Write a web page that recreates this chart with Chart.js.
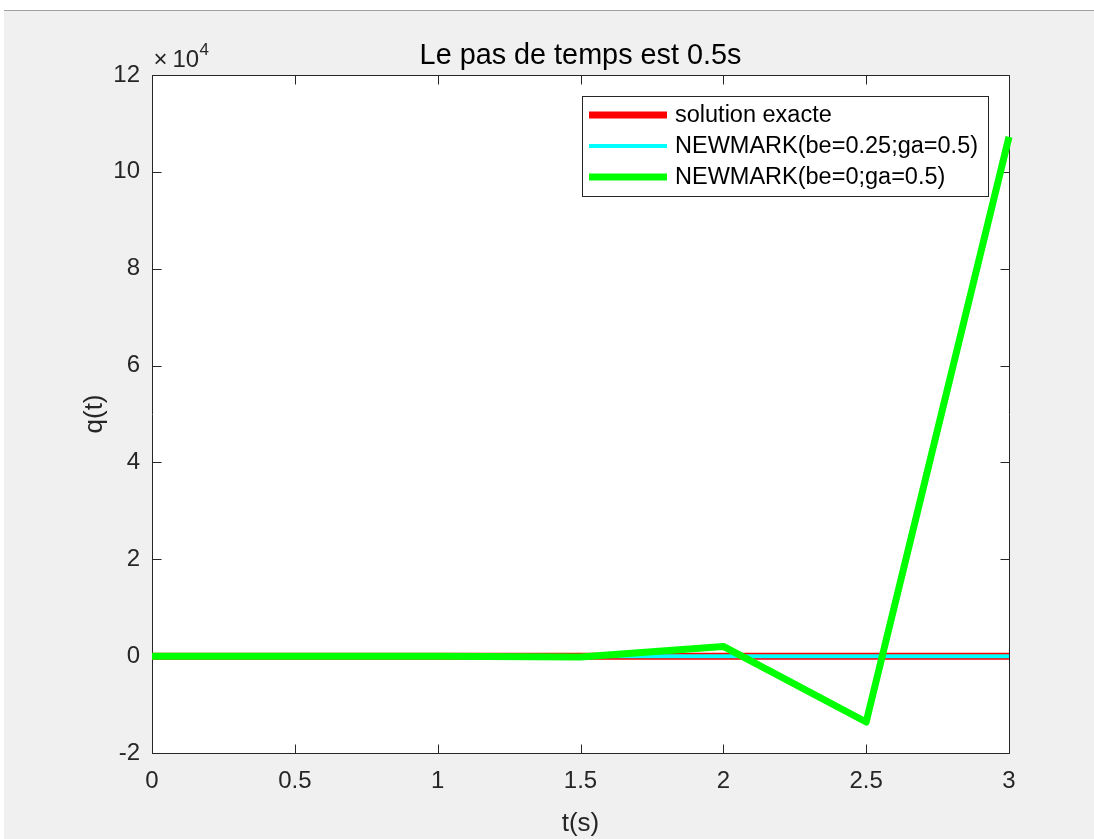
<!DOCTYPE html>
<html>
<head>
<meta charset="utf-8">
<script src="https://cdn.jsdelivr.net/npm/chart.js@4.4.1/dist/chart.umd.min.js"></script>
<style>
  html, body { margin: 0; padding: 0; background: #ffffff; }
  #fig {
    position: absolute; left: 4px; top: 10px; width: 1090px; height: 829px;
    background: #f0f0f0; border-top: 1px solid #a0a0a0; box-sizing: border-box;
  }
  #c { position: absolute; left: 0; top: 0; }
</style>
</head>
<body>
<div id="fig"></div>
<canvas id="c" width="1094" height="839"></canvas>
<script>
// Temps (s) et réponses q(t) pour un pas de temps de 0.5 s
const t = [0, 0.5, 1, 1.5, 2, 2.5, 3];
const solutionExacte = [0, 0, 0, 0, 0, 0, 0];
const newmarkTrapeze = [0, 0, 0, 0, 0, 0, 0];          // be=0.25, ga=0.5
const newmarkExplicite = [0, 0, 0, -200, 2000, -13600, 107200]; // be=0, ga=0.5

// Graduations (axe y exprimé en multiples de 1e4)
const xTicks = [0, 0.5, 1, 1.5, 2, 2.5, 3];
const yTicks = [-2, 0, 2, 4, 6, 8, 10, 12];
const yExponent = 4;
const Y_FACTOR = Math.pow(10, yExponent);

const FONT = "'Liberation Sans', Arial, Helvetica, sans-serif";
const AXIS_COLOR = '#262626';

const toPoints = (ys) => t.map((tv, i) => ({ x: tv, y: ys[i] }));

// Cadre des axes, graduations intérieures, légende et facteur d'échelle
const matlabAxes = {
  id: 'matlabAxes',
  beforeDraw(chart) {
    const { ctx, chartArea: a } = chart;
    ctx.save();
    ctx.fillStyle = '#ffffff';
    ctx.fillRect(a.left, a.top, a.right - a.left, a.bottom - a.top);
    ctx.restore();
  },
  beforeDatasetsDraw(chart) {
    const { ctx, chartArea: a, scales: { x, y } } = chart;
    const L = Math.round(a.left) + 0.5, R = Math.round(a.right) + 0.5;
    const T = Math.round(a.top) + 0.5, B = Math.round(a.bottom) + 0.5;
    const len = 9;
    ctx.save();
    ctx.strokeStyle = AXIS_COLOR;
    ctx.lineWidth = 1;
    ctx.beginPath();
    ctx.rect(L, T, R - L, B - T);
    x.ticks.forEach(tk => {
      const px = Math.round(x.getPixelForValue(tk.value)) + 0.5;
      ctx.moveTo(px, B); ctx.lineTo(px, B - len);
      ctx.moveTo(px, T); ctx.lineTo(px, T + len);
    });
    y.ticks.forEach(tk => {
      const py = Math.round(y.getPixelForValue(tk.value)) + 0.5;
      ctx.moveTo(L, py); ctx.lineTo(L + len, py);
      ctx.moveTo(R, py); ctx.lineTo(R - len, py);
    });
    ctx.stroke();
    ctx.restore();
  },
  afterDatasetsDraw(chart) {
    const { ctx, chartArea: a } = chart;
    const ds = chart.data.datasets;
    ctx.save();
    ctx.font = '23.5px ' + FONT;
    const tw = Math.max(...ds.map(d => ctx.measureText(d.label).width));
    const lineStart = 7, lineLen = 78, gap = 8, padR = 10;
    const rowH = 31, padV = 19;
    const w = lineStart + lineLen + gap + tw + padR;
    const h = padV * 2 + rowH * (ds.length - 1);
    const right = a.right - 21, left = Math.round(right - w), top = Math.round(a.top + 21);
    ctx.fillStyle = '#ffffff';
    ctx.fillRect(left, top, right - left, h);
    ctx.strokeStyle = AXIS_COLOR;
    ctx.lineWidth = 1;
    ctx.strokeRect(left + 0.5, top + 0.5, Math.round(right - left), h);
    ds.forEach((d, i) => {
      const cy = top + padV + i * rowH;
      ctx.strokeStyle = d.borderColor;
      ctx.lineWidth = d.borderWidth;
      ctx.lineCap = 'butt';
      ctx.beginPath();
      ctx.moveTo(left + lineStart, cy);
      ctx.lineTo(left + lineStart + lineLen, cy);
      ctx.stroke();
      ctx.fillStyle = '#000000';
      ctx.textBaseline = 'middle';
      ctx.textAlign = 'left';
      ctx.fillText(d.label, left + lineStart + lineLen + gap, cy + 1);
    });
    ctx.restore();
  },
  afterDraw(chart) {
    const { ctx, chartArea: a } = chart;
    ctx.save();
    ctx.fillStyle = AXIS_COLOR;
    ctx.textBaseline = 'alphabetic';
    ctx.textAlign = 'left';
    ctx.font = '24px ' + FONT;
    ctx.fillText('\u00d7', a.left + 1.5, a.top - 7.5);
    ctx.fillText('10', a.left + 20.5, a.top - 7.5);
    ctx.font = '17px ' + FONT;
    ctx.fillText(String(yExponent), a.left + 47.5, a.top - 20);
    ctx.restore();
  }
};

Chart.defaults.font.family = FONT;
Chart.defaults.color = AXIS_COLOR;

new Chart(document.getElementById('c'), {
  type: 'line',
  data: {
    datasets: [
      {
        label: 'solution exacte',
        data: toPoints(solutionExacte),
        borderColor: '#ff0000', borderWidth: 7, order: 3
      },
      {
        label: 'NEWMARK(be=0.25;ga=0.5)',
        data: toPoints(newmarkTrapeze),
        borderColor: '#00ffff', borderWidth: 4, order: 2
      },
      {
        label: 'NEWMARK(be=0;ga=0.5)',
        data: toPoints(newmarkExplicite),
        borderColor: '#00ff00', borderWidth: 7, order: 1
      }
    ]
  },
  options: {
    responsive: false,
    animation: false,
    devicePixelRatio: 1,
    datasets: {
      line: {
        pointRadius: 0, pointHoverRadius: 0, tension: 0,
        borderJoinStyle: 'round', borderCapStyle: 'butt', clip: false, fill: false
      }
    },
    layout: { padding: { left: 0, right: 85, top: 0, bottom: 0 } },
    plugins: {
      legend: { display: false },
      tooltip: { enabled: false },
      title: {
        display: true,
        text: 'Le pas de temps est 0.5s',
        fullSize: false,
        color: '#000000',
        font: { size: 28.8, weight: 'normal', lineHeight: 1.2 },
        padding: { top: 38.5, bottom: 1.9 }
      }
    },
    scales: {
      x: {
        type: 'linear',
        min: 0, max: 3,
        grid: { display: false, drawTicks: false },
        border: { display: false },
        afterBuildTicks: (s) => { s.ticks = xTicks.map(v => ({ value: v })); },
        afterFit: (s) => { s.height = 86; },
        ticks: {
          autoSkip: false, maxRotation: 0, padding: 13.6,
          color: AXIS_COLOR, font: { size: 24 },
          callback: (v) => String(v)
        },
        title: {
          display: true, text: 't(s)', color: AXIS_COLOR,
          font: { size: 26, lineHeight: 1.2 }, padding: { top: 0, bottom: 0 }
        }
      },
      y: {
        type: 'linear',
        min: yTicks[0] * Y_FACTOR, max: yTicks[yTicks.length - 1] * Y_FACTOR,
        grid: { display: false, drawTicks: false },
        border: { display: false },
        afterBuildTicks: (s) => { s.ticks = yTicks.map(v => ({ value: v * Y_FACTOR })); },
        afterFit: (s) => { s.width = 152; },
        ticks: {
          autoSkip: false, padding: 12,
          color: AXIS_COLOR, font: { size: 24 },
          callback: (v) => String(Math.round(v / Y_FACTOR))
        },
        title: {
          display: true, text: 'q(t)', color: AXIS_COLOR,
          font: { size: 26, lineHeight: 1.2 }, padding: { top: 79, bottom: 0 }
        }
      }
    }
  },
  plugins: [matlabAxes]
});
</script>
</body>
</html>
